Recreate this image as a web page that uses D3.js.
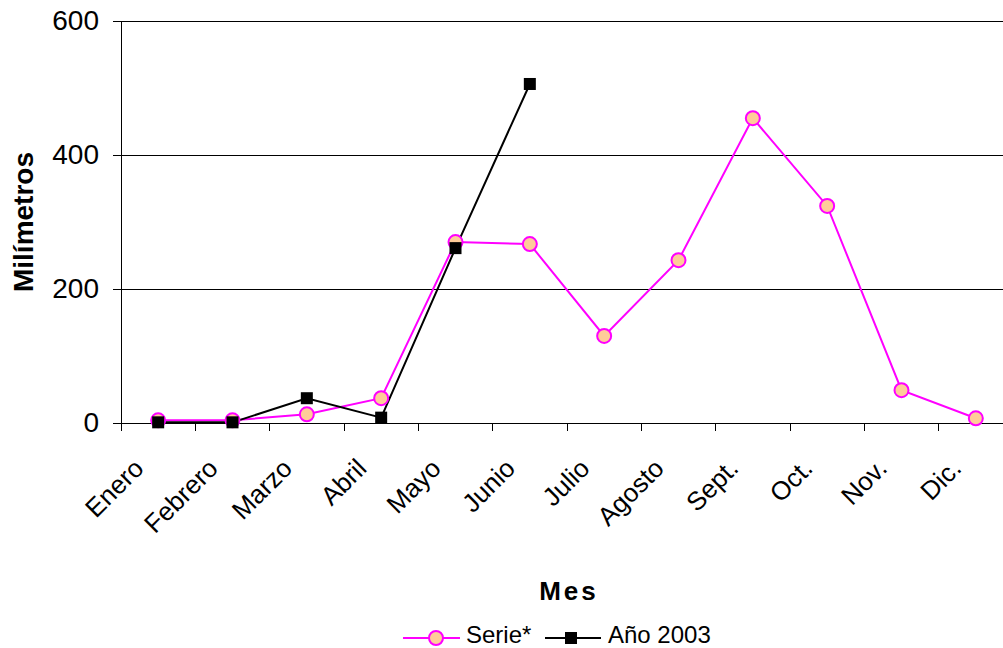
<!DOCTYPE html>
<html>
<head>
<meta charset="utf-8">
<script src="https://cdn.jsdelivr.net/npm/d3@7"></script>
<style>
  html, body { margin: 0; padding: 0; background: #fff; }
  svg { display: block; font-family: "Liberation Sans", Arial, sans-serif; }
</style>
</head>
<body>
<svg id="chart" width="1003" height="648"></svg>
<script>
// Precipitación mensual (mm)
const months = ["Enero", "Febrero", "Marzo", "Abril", "Mayo", "Junio",
                "Julio", "Agosto", "Sept.", "Oct.", "Nov.", "Dic."];
const serieValues = [4, 4, 13, 37, 270, 267, 130, 243, 455, 324, 49, 7];
const anio2003Values = [1, 1, 37, 8, 261, 506];
const yTicks = [0, 200, 400, 600];

const svg = d3.select("#chart");
const margin = { left: 121, top: 21, right: -10, bottom: 225 };
const W = 1003, H = 648;
const plotW = W - margin.left - margin.right;
const plotH = H - margin.top - margin.bottom;

const x = d3.scaleBand().domain(months).range([margin.left, margin.left + plotW]).padding(0);
const y = d3.scaleLinear().domain([0, 600]).range([margin.top + plotH, margin.top]);

// horizontal gridlines
svg.append("g")
  .attr("shape-rendering", "crispEdges")
  .selectAll("line")
  .data(yTicks.filter(d => d > 0))
  .join("line")
  .attr("x1", margin.left).attr("x2", margin.left + plotW)
  .attr("y1", d => y(d)).attr("y2", d => y(d))
  .attr("stroke", "#000").attr("stroke-width", 1);

// y axis
const yAxis = svg.append("g")
  .attr("transform", `translate(${margin.left},0)`)
  .attr("shape-rendering", "crispEdges")
  .call(d3.axisLeft(y).tickValues(yTicks).tickSize(8).tickPadding(14).tickSizeOuter(0));
yAxis.select(".domain").attr("stroke", "#000");
yAxis.selectAll("line").attr("stroke", "#000");
yAxis.selectAll("text").attr("font-size", 28).attr("fill", "#000")
  .attr("font-family", "Liberation Sans, Arial, sans-serif");

// x axis with ticks at category boundaries
const xAxisG = svg.append("g")
  .attr("transform", `translate(0,${y(0)})`);
xAxisG.append("line")
  .attr("shape-rendering", "crispEdges")
  .attr("x1", margin.left).attr("x2", margin.left + plotW)
  .attr("stroke", "#000");
xAxisG.selectAll("line.tick")
  .data(months)
  .join("line")
  .attr("class", "tick")
  .attr("shape-rendering", "crispEdges")
  .attr("x1", d => x(d)).attr("x2", d => x(d))
  .attr("y1", 0).attr("y2", 8)
  .attr("stroke", "#000");
xAxisG.selectAll("text")
  .data(months)
  .join("text")
  .attr("transform", d => `translate(${x(d) + x.bandwidth() / 2 - 13},${47}) rotate(-45)`)
  .attr("text-anchor", "end")
  .attr("font-size", 26)
  .attr("fill", "#000")
  .text(d => d);

const cx = d => x(d) + x.bandwidth() / 2;

// Serie* line
const serieData = months.map((m, i) => ({ m, v: serieValues[i] }));
svg.append("path")
  .datum(serieData)
  .attr("fill", "none")
  .attr("stroke", "#FF00FF")
  .attr("stroke-width", 2)
  .attr("d", d3.line().x(d => cx(d.m)).y(d => y(d.v)));

// Año 2003 line
const anioData = anio2003Values.map((v, i) => ({ m: months[i], v }));
svg.append("path")
  .datum(anioData)
  .attr("fill", "none")
  .attr("stroke", "#000")
  .attr("stroke-width", 2)
  .attr("d", d3.line().x(d => cx(d.m)).y(d => y(d.v)));

svg.append("g").selectAll("circle")
  .data(serieData)
  .join("circle")
  .attr("cx", d => cx(d.m)).attr("cy", d => y(d.v))
  .attr("r", 7)
  .attr("fill", "#FFCC99")
  .attr("stroke", "#FF00FF")
  .attr("stroke-width", 2);

const sq = 12;
svg.append("g").selectAll("rect")
  .data(anioData)
  .join("rect")
  .attr("x", d => cx(d.m) - sq / 2).attr("y", d => y(d.v) - sq / 2)
  .attr("width", sq).attr("height", sq)
  .attr("fill", "#000");

// axis titles
svg.append("text")
  .attr("x", 569).attr("y", 600)
  .attr("text-anchor", "middle")
  .attr("font-size", 26).attr("font-weight", "bold")
  .attr("letter-spacing", 3)
  .text("Mes");

svg.append("text")
  .attr("transform", `translate(33,${y(300)}) rotate(-90)`)
  .attr("text-anchor", "middle")
  .attr("font-size", 28).attr("font-weight", "bold")
  .text("Milímetros");

// legend
const leg = svg.append("g").attr("font-size", 24);
const ly = 638;
leg.append("line").attr("x1", 403).attr("x2", 460).attr("y1", ly).attr("y2", ly)
  .attr("stroke", "#FF00FF").attr("stroke-width", 2);
leg.append("circle").attr("cx", 436).attr("cy", ly).attr("r", 7)
  .attr("fill", "#FFCC99").attr("stroke", "#FF00FF").attr("stroke-width", 2);
leg.append("text").attr("x", 466).attr("y", 643).text("Serie*");
leg.append("line").attr("x1", 545).attr("x2", 601).attr("y1", ly).attr("y2", ly)
  .attr("stroke", "#000").attr("stroke-width", 2);
leg.append("rect").attr("x", 571 - sq / 2).attr("y", ly - sq / 2)
  .attr("width", sq).attr("height", sq).attr("fill", "#000");
leg.append("text").attr("x", 608).attr("y", 643).text("Año 2003");
</script>
</body>
</html>
